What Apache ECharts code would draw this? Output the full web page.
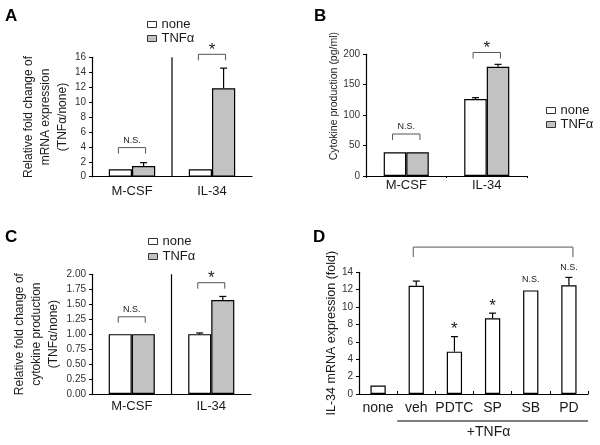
<!DOCTYPE html>
<html><head><meta charset="utf-8">
<script src="https://cdn.jsdelivr.net/npm/echarts@6/dist/echarts.min.js"></script>
<style>html,body{margin:0;padding:0;background:#fff}#c{width:600px;height:445px}</style>
</head><body><div id="c"></div>
<script>
// ---------- data ----------
const groups = ['M-CSF', 'IL-34'];
const legendNames = ['none', 'TNFα'];

// Panel A: relative fold change of mRNA expression
const aNone = [1.0, 1.0];
const aNoneErr = [0, 0];
const aTnf = [1.43, 11.85];
const aTnfErr = [0.45, 2.7];
const aYTicks = [0, 2, 4, 6, 8, 10, 12, 14, 16];
const aSigLevel = [3.9, 16.4];
const aSigText = ['N.S.', '*'];

// Panel B: cytokine production (pg/ml)
const bNone = [39, 126.5];
const bNoneErr = [1, 2.2];
const bTnf = [39, 179.5];
const bTnfErr = [1, 4];
const bYTicks = [0, 50, 100, 150, 200];
const bSigLevel = [69, 203];
const bSigText = ['N.S.', '*'];

// Panel C: relative fold change of cytokine production
const cNone = [1.0, 1.0];
const cNoneErr = [0.01, 0.02];
const cTnf = [1.0, 1.57];
const cTnfErr = [0, 0.06];
const cYTicks = [0, 0.25, 0.5, 0.75, 1.0, 1.25, 1.5, 1.75, 2.0];
const cSigLevel = [1.29, 1.86];
const cSigText = ['N.S.', '*'];

// Panel D: IL-34 mRNA expression (fold)
const dCats = ['none', 'veh', 'PDTC', 'SP', 'SB', 'PD'];
const dValues = [0.97, 12.46, 4.87, 8.7, 11.92, 12.51];
const dErr = [0.08, 0.53, 1.73, 0.6, 0.08, 0.9];
const dYTicks = [0, 2, 4, 6, 8, 10, 12, 14];
const dSigText = ['', '', '*', '*', 'N.S.', 'N.S.'];
const dBracketLevel = 16.9;
const dTreatLabel = '+TNFα';
const dTreatFrom = 1, dTreatTo = 5;

// ---------- helpers ----------
const GRAY = '#c2c2c2';
const TXT = '#1a1a1a';
const FONT = 'Liberation Sans, Arial';

function yAxisOf(ticks, gridIndex, name, nameOpts, fmt) {
  return Object.assign({
    type: 'value', gridIndex: gridIndex,
    min: ticks[0], max: ticks[ticks.length - 1], interval: ticks[1] - ticks[0],
    axisLine: { show: true, lineStyle: { color: '#000', width: 1.2 } },
    axisTick: { show: true, length: 3, lineStyle: { color: '#000' } },
    splitLine: { show: false },
    axisLabel: { fontSize: 10, color: '#333', margin: 6, fontFamily: FONT, formatter: fmt },
    name: name, nameLocation: 'middle',
    nameTextStyle: { fontSize: 12, color: TXT, fontFamily: FONT, lineHeight: 17 }
  }, nameOpts);
}
function xAxisOf(cats, gridIndex, fontSize, margin, tick) {
  return {
    type: 'category', gridIndex: gridIndex, data: cats,
    axisLine: { show: true, lineStyle: { color: '#000', width: 1.2 } },
    axisTick: tick || { show: false },
    axisLabel: { fontSize: fontSize, color: TXT, margin: margin, fontFamily: FONT, interval: 0 },
    splitLine: { show: false }
  };
}
function barSeries(name, ax, data, fill, width) {
  return {
    type: 'bar', name: name, xAxisIndex: ax, yAxisIndex: ax, data: data,
    barWidth: width, barGap: '0%', silent: true,
    itemStyle: { color: fill, borderColor: '#000', borderWidth: 1.2 }
  };
}
function errSeries(ax, values, errs, offsetFrac) {
  return {
    type: 'custom', name: 'err', xAxisIndex: ax, yAxisIndex: ax, silent: true, z: 5,
    data: values.map((v, i) => [i, v, v + errs[i]]),
    renderItem(params, api) {
      const band = api.size([1, 0])[0];
      const b = api.coord([api.value(0), api.value(1)]);
      const t = api.coord([api.value(0), api.value(2)]);
      if (b[1] - t[1] < 1) return null;
      const x = b[0] + offsetFrac * band;
      const st = { stroke: '#000', lineWidth: 1.2 };
      return { type: 'group', children: [
        { type: 'line', shape: { x1: x, y1: b[1], x2: x, y2: t[1] }, style: st },
        { type: 'line', shape: { x1: x - 3.5, y1: t[1], x2: x + 3.5, y2: t[1] }, style: st }
      ]};
    }
  };
}
function sigText(t, x, y) {
  const star = t === '*';
  return { type: 'text', x: x, y: star ? y + 3 : y,
    style: { text: t, fontSize: star ? 17 : 9, fill: TXT, align: 'center', verticalAlign: 'middle', fontFamily: FONT } };
}
function bracketSeries(ax, levels, texts) {
  return {
    type: 'custom', name: 'sig', xAxisIndex: ax, yAxisIndex: ax, silent: true, clip: false, z: 10,
    data: levels.map((l, i) => [i, l]),
    renderItem(params, api) {
      const band = api.size([1, 0])[0];
      const p = api.coord([api.value(0), api.value(1)]);
      const hw = band * 0.17;
      return { type: 'group', children: [
        { type: 'polyline', shape: { points: [[p[0] - hw, p[1] + 6], [p[0] - hw, p[1]], [p[0] + hw, p[1]], [p[0] + hw, p[1] + 6]] },
          style: { stroke: '#555', lineWidth: 1, fill: null } },
        sigText(texts[params.dataIndex], p[0], p[1] - 7)
      ]};
    }
  };
}
function dividerSeries(ax, cat, top) {
  return {
    type: 'custom', name: 'div', xAxisIndex: ax, yAxisIndex: ax, silent: true, z: 6,
    data: [[cat, 0, top]],
    renderItem(params, api) {
      const band = api.size([1, 0])[0];
      const b = api.coord([api.value(0), api.value(1)]);
      const t = api.coord([api.value(0), api.value(2)]);
      const x = b[0] - band / 2;
      return { type: 'line', shape: { x1: x, y1: b[1], x2: x, y2: t[1] }, style: { stroke: '#000', lineWidth: 1.2 } };
    }
  };
}
function legendAt(left, top, gap) {
  return {
    data: legendNames, orient: 'vertical', left: left, top: top, itemWidth: 9, itemHeight: 6, itemGap: gap,
    icon: 'rect', selectedMode: false, padding: 0,
    itemStyle: { borderWidth: 1, borderColor: '#333' },
    textStyle: { fontSize: 13, color: TXT, fontFamily: FONT, lineHeight: 13, padding: 0 }
  };
}
function panelTitle(t, left, top) {
  return { text: t, left: left, top: top, padding: 0,
    textStyle: { fontSize: 17, fontWeight: 'bold', color: '#000', fontFamily: FONT } };
}

// ---------- option ----------
const option = {
  animation: false,
  backgroundColor: '#fff',
  title: [panelTitle('A', 5, 8), panelTitle('B', 314, 8), panelTitle('C', 5, 229), panelTitle('D', 313, 229)],
  legend: [legendAt(147, 18, 1), legendAt(546, 104, 1), legendAt(148, 235, 2)],
  grid: [
    { left: 92, right: 348, top: 57.3, bottom: 268.3, outerBoundsMode: 'none', containLabel: false },
    { left: 366, right: 73, top: 54.3, bottom: 269, outerBoundsMode: 'none', containLabel: false },
    { left: 92, right: 349, top: 274.3, bottom: 51, outerBoundsMode: 'none', containLabel: false },
    { left: 359, right: 12, top: 272.3, bottom: 51, outerBoundsMode: 'none', containLabel: false }
  ],
  xAxis: [
    xAxisOf(groups, 0, 13, 8),
    xAxisOf(groups, 1, 13, 3, { show: true, inside: false, length: 2, interval: 0, lineStyle: { color: '#000' } }),
    xAxisOf(groups, 2, 13, 6),
    xAxisOf(dCats, 3, 14, 7, { show: true, inside: true, length: 3, interval: 0, lineStyle: { color: '#000' } })
  ],
  yAxis: [
    yAxisOf(aYTicks, 0, 'Relative fold change of\nmRNA expression\n(TNFα/none)', { nameGap: 16 }),
    yAxisOf(bYTicks, 1, 'Cytokine production (pg/ml)', { nameGap: 24,
      nameTextStyle: { fontSize: 10.5, color: TXT, fontFamily: FONT, padding: [0, 0, 0, 38] } }),
    yAxisOf(cYTicks, 2, 'Relative fold change of\ncytokine production\n(TNFα/none)', { nameGap: 22 }, v => v.toFixed(2)),
    yAxisOf(dYTicks, 3, 'IL-34 mRNA expression (fold)', { nameGap: 14,
      nameTextStyle: { fontSize: 12.5, color: TXT, fontFamily: FONT } })
  ],
  series: [
    barSeries('none', 0, aNone, '#fff', '29%'),
    barSeries('TNFα', 0, aTnf, GRAY, '29%'),
    errSeries(0, aNone, aNoneErr, -0.145),
    errSeries(0, aTnf, aTnfErr, 0.145),
    bracketSeries(0, aSigLevel, aSigText),
    dividerSeries(0, 1, aYTicks[aYTicks.length - 1]),

    barSeries('none', 1, bNone, '#fff', '28%'),
    barSeries('TNFα', 1, bTnf, GRAY, '28%'),
    errSeries(1, bNone, bNoneErr, -0.14),
    errSeries(1, bTnf, bTnfErr, 0.14),
    bracketSeries(1, bSigLevel, bSigText),

    barSeries('none', 2, cNone, '#fff', '29%'),
    barSeries('TNFα', 2, cTnf, GRAY, '29%'),
    errSeries(2, cNone, cNoneErr, -0.145),
    errSeries(2, cTnf, cTnfErr, 0.145),
    bracketSeries(2, cSigLevel, cSigText),
    dividerSeries(2, 1, cYTicks[cYTicks.length - 1]),

    {
      type: 'bar', name: 'IL-34 mRNA', xAxisIndex: 3, yAxisIndex: 3, data: dValues, barWidth: '40%', silent: true,
      itemStyle: { color: '#fff', borderColor: '#000', borderWidth: 1.2 }
    },
    errSeries(3, dValues, dErr, 0),
    {
      type: 'custom', name: 'dsig', xAxisIndex: 3, yAxisIndex: 3, silent: true, clip: false, z: 10,
      data: dValues.map((v, i) => [i, v + dErr[i]]),
      renderItem(params, api) {
        const t = dSigText[params.dataIndex];
        if (!t) return null;
        const p = api.coord([api.value(0), api.value(1)]);
        return sigText(t, p[0], p[1] - 10);
      }
    },
    {
      type: 'custom', name: 'dbracket', xAxisIndex: 3, yAxisIndex: 3, silent: true, clip: false, z: 10,
      data: [[dTreatFrom, dBracketLevel, dTreatTo]],
      renderItem(params, api) {
        const band = api.size([1, 0])[0];
        const a = api.coord([api.value(0), api.value(1)]);
        const b = api.coord([api.value(2), api.value(1)]);
        const y0 = api.coord([0, 0])[1];
        const x1 = a[0] - 3, x2 = b[0] + 4;
        const lx1 = a[0] - band / 2, lx2 = b[0] + band / 2;
        return { type: 'group', children: [
          { type: 'polyline', shape: { points: [[x1, a[1] + 10], [x1, a[1]], [x2, a[1]], [x2, a[1] + 10]] },
            style: { stroke: '#555', lineWidth: 1, fill: null } },
          { type: 'line', shape: { x1: lx1, y1: y0 + 27, x2: lx2, y2: y0 + 27 }, style: { stroke: '#000', lineWidth: 1 } },
          { type: 'text', x: (lx1 + lx2) / 2 - 4, y: y0 + 38,
            style: { text: dTreatLabel, fontSize: 14, fill: TXT, align: 'center', verticalAlign: 'middle', fontFamily: FONT } }
        ]};
      }
    }
  ]
};

const chart = echarts.init(document.getElementById('c'), null, { renderer: 'canvas' });
chart.setOption(option);
</script>
</body></html>
